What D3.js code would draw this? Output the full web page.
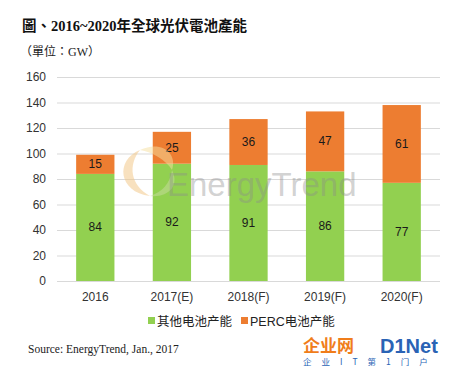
<!DOCTYPE html>
<html>
<head>
<meta charset="utf-8">
<script src="https://cdn.jsdelivr.net/npm/d3@7"></script>
<style>
  body { margin: 0; background: #fff; }
  text { font-family: "Liberation Sans", "Noto Sans CJK SC", sans-serif; }
</style>
</head>
<body>
<div id="wrapper"></div>
<script>
const years = ["2016", "2017(E)", "2018(F)", "2019(F)", "2020(F)"];
const otherCells = [84, 92, 91, 86, 77];
const percCells = [15, 25, 36, 47, 61];
const yTicks = [0, 20, 40, 60, 80, 100, 120, 140, 160];
const seriesNames = ["其他电池产能", "PERC电池产能"];
const colors = ["#92d050", "#ed7d31"];

const dimension = {
    width: 462,
    height: 370,
    margin: { top: 77, right: 22, bottom: 89, left: 57 }
};
dimension.boundedWidth = dimension.width - dimension.margin.left - dimension.margin.right;
dimension.boundedHeight = dimension.height - dimension.margin.top - dimension.margin.bottom;

const svg = d3.select("#wrapper").append("svg")
    .attr("width", dimension.width)
    .attr("height", dimension.height);

// title
svg.append("text")
    .attr("x", 22).attr("y", 31)
    .style("font-family", "'Liberation Serif', 'Noto Sans CJK TC', serif")
    .style("font-weight", "bold")
    .style("font-size", "14.5px")
    .attr("fill", "#111")
    .text("圖、2016~2020年全球光伏電池產能");

svg.append("text")
    .attr("x", 20).attr("y", 56)
    .style("font-family", "'Liberation Serif', 'Noto Sans CJK TC', serif")
    .style("font-size", "12px")
    .attr("fill", "#222")
    .text("（單位：GW）");

const bounds = svg.append("g")
    .attr("transform", `translate(${dimension.margin.left},${dimension.margin.top})`);

const x = d3.scaleBand()
    .domain(years)
    .range([0, dimension.boundedWidth])
    .paddingInner(0.5)
    .paddingOuter(0.25);

const y = d3.scaleLinear()
    .domain([0, 160])
    .range([dimension.boundedHeight, 0]);

// gridlines + y labels
const yAxis = d3.axisLeft(y)
    .tickValues(yTicks)
    .tickSize(-dimension.boundedWidth)
    .tickPadding(11);

const yG = bounds.append("g").call(yAxis);
yG.select(".domain").remove();
yG.selectAll(".tick line").attr("stroke", "#d9d9d9");
yG.selectAll(".tick text")
    .style("font-size", "12px")
    .attr("fill", "#333");

const stack = years.map((d, i) => ({ year: d, other: otherCells[i], perc: percCells[i] }));

// green bars
bounds.selectAll(".other")
    .data(stack)
    .enter()
    .append("rect")
    .attr("class", "other")
    .attr("x", d => x(d.year))
    .attr("width", x.bandwidth())
    .attr("y", d => y(d.other))
    .attr("height", d => y(0) - y(d.other))
    .attr("fill", colors[0]);

// orange bars
bounds.selectAll(".perc")
    .data(stack)
    .enter()
    .append("rect")
    .attr("class", "perc")
    .attr("x", d => x(d.year))
    .attr("width", x.bandwidth())
    .attr("y", d => y(d.other + d.perc))
    .attr("height", d => y(d.other) - y(d.other + d.perc))
    .attr("fill", colors[1]);

// watermark, drawn over the bars
svg.append("path")
    .attr("d", "M150,196 C118,192 115,160 140,150 C128,165 130,185 150,196 Z")
    .attr("fill", "#f2c88a")
    .attr("fill-opacity", 0.55);
svg.append("path")
    .attr("d", "M140,150 C160,140 178,152 172,170 C166,160 152,152 140,150 Z")
    .attr("fill", "#f5e0a0")
    .attr("fill-opacity", 0.5);
svg.append("path")
    .attr("d", "M150,196 C168,198 180,186 172,170 C170,184 162,192 150,196 Z")
    .attr("fill", "#c8dca0")
    .attr("fill-opacity", 0.5);
svg.append("text")
    .attr("x", 167).attr("y", 196)
    .style("font-size", "33px")
    .attr("fill", "#8c8c8c")
    .attr("fill-opacity", 0.4)
    .text("EnergyTrend");

// value labels
bounds.selectAll(".lblOther")
    .data(stack)
    .enter()
    .append("text")
    .attr("x", d => x(d.year) + x.bandwidth() / 2)
    .attr("y", d => y(d.other / 2) + 4)
    .style("text-anchor", "middle")
    .style("font-size", "12px")
    .attr("fill", "#1a1a1a")
    .text(d => d.other);

bounds.selectAll(".lblPerc")
    .data(stack)
    .enter()
    .append("text")
    .attr("x", d => x(d.year) + x.bandwidth() / 2)
    .attr("y", d => y(d.other + d.perc / 2) + 4)
    .style("text-anchor", "middle")
    .style("font-size", "12px")
    .attr("fill", "#1a1a1a")
    .text(d => d.perc);

// x labels
bounds.selectAll(".xlbl")
    .data(years)
    .enter()
    .append("text")
    .attr("x", d => x(d) + x.bandwidth() / 2)
    .attr("y", dimension.boundedHeight + 20)
    .style("text-anchor", "middle")
    .style("font-size", "12px")
    .attr("fill", "#333")
    .text(d => d);

// legend
const legendX = [148, 241];
const legend = svg.append("g")
    .selectAll("g")
    .data(seriesNames)
    .enter()
    .append("g")
    .attr("transform", (d, i) => `translate(${legendX[i]}, 321)`);
legend.append("rect")
    .attr("x", 0).attr("y", -4)
    .attr("width", 7).attr("height", 7)
    .attr("fill", (d, i) => colors[i]);
legend.append("text")
    .attr("x", 9).attr("y", 4.5)
    .style("font-size", "12.5px")
    .attr("fill", "#222")
    .text(d => d);

// source
svg.append("text")
    .attr("x", 28).attr("y", 353)
    .style("font-family", "'Liberation Serif', serif")
    .style("font-size", "11.5px")
    .attr("fill", "#222")
    .text("Source: EnergyTrend, Jan., 2017");

// corner logo
svg.append("text")
    .attr("x", 303).attr("y", 352)
    .style("font-family", "'Noto Sans CJK SC', sans-serif")
    .style("font-weight", "bold")
    .style("font-size", "17px")
    .attr("fill", "#f07d1a")
    .text("企业网");
svg.append("text")
    .attr("x", 380).attr("y", 353)
    .style("font-weight", "bold")
    .style("font-size", "20px")
    .attr("fill", "#2a63b5")
    .text("D1Net");
svg.append("text")
    .attr("x", 303).attr("y", 365)
    .style("font-family", "'Noto Sans CJK SC', sans-serif")
    .style("font-size", "8.5px")
    .style("letter-spacing", "10px")
    .attr("fill", "#2a63b5")
    .text("企业IT第1门户");
</script>
</body>
</html>
